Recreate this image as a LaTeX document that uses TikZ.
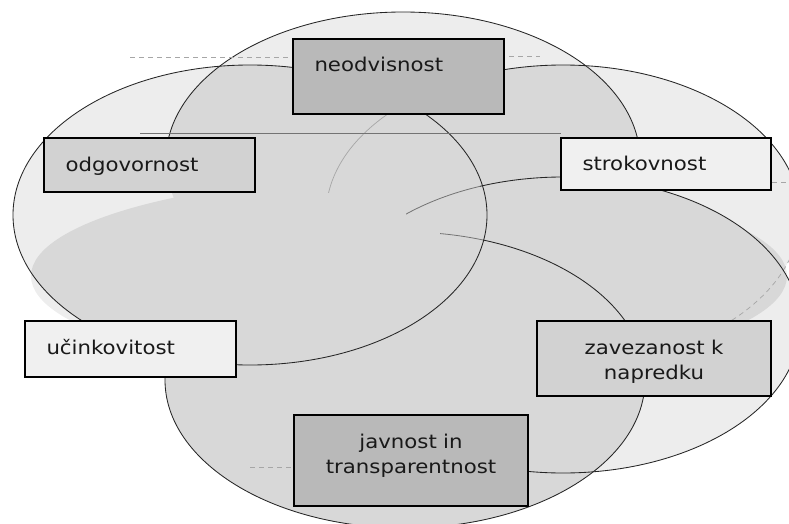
\documentclass[tikz,border=0pt]{standalone}
\usepackage{fontspec}
\setmainfont{DejaVu Sans}
\newfontfamily\boxfont{DejaVu Sans}[FakeStretch=1.12]
\definecolor{onegray}{HTML}{EDEDED}
\definecolor{twogray}{HTML}{D8D8D8}
\definecolor{boxdark}{HTML}{B9B9B9}
\definecolor{boxmid}{HTML}{D2D2D2}
\definecolor{boxlight}{HTML}{F0F0F0}
\newcommand\EllTop{(403,160) ellipse [x radius=237, y radius=148]}
\newcommand\EllLeft{(250,215) ellipse [x radius=237, y radius=150]}
\newcommand\EllRight{(563,215) ellipse [x radius=237, y radius=150]}
\newcommand\EllBR{(563,325) ellipse [x radius=237, y radius=148]}
\newcommand\EllJav{(405,380) ellipse [x radius=240, y radius=148]}
\newcommand\EllMid{(409,276) ellipse [x radius=378, y radius=100]}
\newcommand\pairfill[2]{\begin{scope}\clip #1; \fill[twogray] #2;\end{scope}}
\begin{document}
\begin{tikzpicture}[x=1pt,y=-1pt,
  boxbase/.style={draw=black, line width=1.3pt, rectangle, inner ysep=0pt,
    font=\boxfont\fontsize{19pt}{25pt}\selectfont, text=black!90},
  onebox/.style={boxbase, align=left, inner xsep=21.5pt, text height=14.5pt},
  twobox/.style={boxbase, align=center, inner xsep=4pt, text height=14.5pt},
  arcline/.style={draw=black!85, line width=0.85pt},
  midline/.style={draw=black!55, line width=0.8pt},
  faintline/.style={draw=black!35, line width=0.7pt},
  dashline/.style={draw=black!35, line width=0.7pt, dash pattern=on 5pt off 4pt}]
\useasboundingbox (0,0) rectangle (789,524);
\begin{scope}
\clip (0,0) rectangle (789,524);
% ---- single layer ----
\fill[onegray] \EllTop;
\fill[onegray] \EllLeft;
\fill[onegray] \EllRight;
\fill[onegray] \EllBR;
\fill[onegray] \EllMid;
\fill[twogray] \EllJav;
% ---- overlaps ----
\pairfill{\EllTop}{\EllLeft}
\pairfill{\EllTop}{\EllRight}
\pairfill{\EllTop}{\EllBR}
\pairfill{\EllTop}{\EllMid}
\pairfill{\EllLeft}{\EllRight}
\pairfill{\EllLeft}{\EllBR}
\pairfill{\EllLeft}{\EllMid}
\pairfill{\EllRight}{\EllBR}
\pairfill{\EllRight}{\EllMid}
\pairfill{\EllBR}{\EllMid}
% ---- outlines ----
\draw[arcline] \EllLeft;
\begin{scope}
\clip (0,0) rectangle (789,136);
\draw[arcline] \EllTop;
\end{scope}
\begin{scope}
\clip (395,0) rectangle (789,190);
\draw[arcline] \EllRight;
\end{scope}
\begin{scope}
\clip (300,100) rectangle (395,192);
\draw[faintline] \EllRight;
\end{scope}
\begin{scope}
\clip (722,240) rectangle (789,321);
\draw[dashline] \EllRight;
\end{scope}
\begin{scope}
\clip (480,0) rectangle (789,524);
\draw[arcline] \EllBR;
\end{scope}
\begin{scope}
\clip (406,0) rectangle (480,300);
\draw[midline] \EllBR;
\end{scope}
\begin{scope}
\clip (483,0) rectangle (789,380) (0,377) rectangle (789,524);
\draw[arcline] \EllJav;
\end{scope}
\begin{scope}
\clip (440,0) rectangle (483,300);
\draw[midline] \EllJav;
\end{scope}
\draw[midline] (140,133) -- (561,133);
\draw[dashline] (130,57) -- (290,57);
\draw[dashline] (509,56) -- (540,56);
\draw[dashline] (772,182) -- (789,182);
\draw[dashline] (250,467) -- (293,467);
\end{scope}
% ---- boxes ----
\node[onebox, fill=boxdark, minimum width=211pt, minimum height=75pt, text width=168pt, text depth=23.5pt] (neo) at (398.5,76.5) {neodvisnost};
\node[onebox, fill=boxmid, minimum width=211pt, minimum height=54pt, text width=168pt, text depth=1pt] (odg) at (149.5,165) {odgovornost};
\node[onebox, fill=boxlight, minimum width=210pt, minimum height=52pt, text width=167pt, text depth=1pt] (str) at (666,164) {strokovnost};
\node[onebox, fill=boxlight, minimum width=211pt, minimum height=56pt, text width=168pt, text depth=3.5pt] (uci) at (130.5,349) {učinkovitost};
\node[twobox, fill=boxmid, minimum width=234pt, minimum height=75pt, text width=226pt, text depth=23.5pt] (zav) at (654,358.5) {zavezanost k\\napredku};
\node[twobox, fill=boxdark, minimum width=234pt, minimum height=91pt, text width=226pt, text depth=39.5pt] (jav) at (411,460.5) {javnost in\\transparentnost};
\end{tikzpicture}
\end{document}
